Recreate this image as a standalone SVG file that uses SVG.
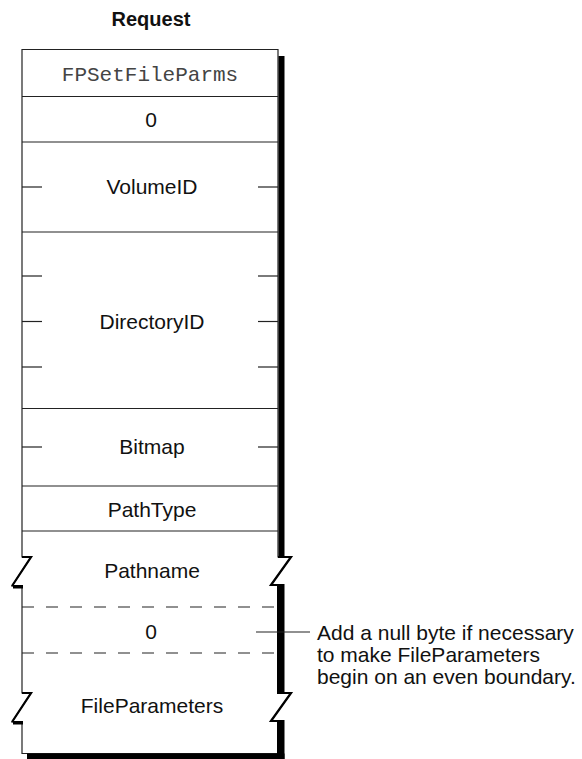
<svg xmlns="http://www.w3.org/2000/svg" width="582" height="759" viewBox="0 0 582 759">
<style>
.t{font-family:"Liberation Sans",Arial,sans-serif;font-size:21px;fill:#111;text-anchor:middle}
.b{font-weight:bold;font-size:20px}
.m{font-family:"Liberation Mono","Courier New",monospace;font-size:21px;fill:#444;text-anchor:middle}
.n{font-family:"Liberation Sans",Arial,sans-serif;font-size:21px;fill:#111}
.ln{stroke:#222;stroke-width:1.2;fill:none}
.d{stroke:#222;stroke-width:1.2;fill:none;stroke-dasharray:12 12}
.z{stroke:#000;stroke-width:2.2;fill:none;stroke-linejoin:miter}
.s{fill:#000}
</style>
<text class="t b" x="151" y="26">Request</text>
<g id="frame">
<path d="M22,49.5 H278 V557 H291 L271,585 H278 V693 H291 L271,721 H278 V753.5 H22 V722 H12 L31,693 H22 V586 H12 L31,557 H22 Z" fill="#fff" stroke="#222" stroke-width="1.2"/>
<rect class="s" x="278.5" y="56" width="6" height="502"/>
<rect class="s" x="277" y="584" width="7.5" height="110"/>
<rect class="s" x="277" y="720" width="7.5" height="39"/>
<rect class="s" x="27" y="753.5" width="257.5" height="5.5"/>
<rect class="s" x="13" y="585" width="10" height="3.5"/>
<rect class="s" x="13" y="721" width="10" height="3.5"/>
<path class="z" d="M22,557 H31 L12,586"/>
<path class="z" d="M22,693 H31 L12,722"/>
<path class="z" d="M278,557 H291 L271,585 H278"/>
<path class="z" d="M278,693 H291 L271,721 H278"/>
</g>
<g id="command">
<text class="m" x="150" y="81">FPSetFileParms</text>
<line class="ln" x1="22" y1="96.5" x2="278" y2="96.5"/>
</g>
<g id="pad">
<text class="t" x="151" y="127">0</text>
<line class="ln" x1="22" y1="142" x2="278" y2="142"/>
</g>
<g id="volumeid">
<text class="t" x="152" y="194">VolumeID</text>
<line class="ln" x1="22" y1="187" x2="42" y2="187"/>
<line class="ln" x1="258" y1="187" x2="278" y2="187"/>
<line class="ln" x1="22" y1="232" x2="278" y2="232"/>
</g>
<g id="directoryid">
<text class="t" x="152" y="329">DirectoryID</text>
<line class="ln" x1="22" y1="276" x2="42" y2="276"/>
<line class="ln" x1="258" y1="276" x2="278" y2="276"/>
<line class="ln" x1="22" y1="321.5" x2="42" y2="321.5"/>
<line class="ln" x1="258" y1="321.5" x2="278" y2="321.5"/>
<line class="ln" x1="22" y1="367" x2="42" y2="367"/>
<line class="ln" x1="258" y1="367" x2="278" y2="367"/>
<line class="ln" x1="22" y1="408.5" x2="278" y2="408.5"/>
</g>
<g id="bitmap">
<text class="t" x="152" y="454">Bitmap</text>
<line class="ln" x1="22" y1="447" x2="42" y2="447"/>
<line class="ln" x1="258" y1="447" x2="278" y2="447"/>
<line class="ln" x1="22" y1="486" x2="278" y2="486"/>
</g>
<g id="pathtype">
<text class="t" x="152" y="517">PathType</text>
<line class="ln" x1="22" y1="531" x2="278" y2="531"/>
</g>
<g id="pathname">
<text class="t" x="152" y="578">Pathname</text>
<line class="d" x1="22" y1="607" x2="278" y2="607"/>
</g>
<g id="nullbyte">
<text class="t" x="151" y="639">0</text>
<line class="d" x1="22" y1="653" x2="278" y2="653"/>
</g>
<g id="fileparameters">
<text class="t" x="152" y="713">FileParameters</text>
</g>
<g id="connectors">
<line class="ln" x1="256" y1="632" x2="310" y2="632"/>
</g>
<g id="note">
<text class="n" x="317" y="640">Add a null byte if necessary</text>
<text class="n" x="317" y="662">to make FileParameters</text>
<text class="n" x="317" y="684">begin on an even boundary.</text>
</g>
</svg>
